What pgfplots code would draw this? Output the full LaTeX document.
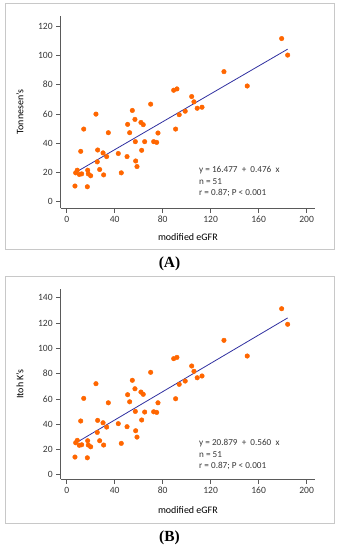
\documentclass[border=0pt]{standalone}
\usepackage{pgfplots}
\pgfplotsset{compat=1.18}
\usepackage{pgfplotstable}
\usepackage{fontspec}
\setmainfont{Carlito}
\newfontfamily\serifb{Liberation Serif}
\definecolor{dotor}{RGB}{255,102,0}
\definecolor{fitblue}{RGB}{48,48,160}
\definecolor{axgray}{RGB}{90,90,90}
\definecolor{txtgray}{RGB}{55,55,55}
\definecolor{framegray}{RGB}{200,200,200}

\pgfplotstableread{
x yA yB
179.2 111.4 131.3
184.2 100.1 119.0
131.1 88.8 106.3
150.5 79.0 93.9
89.2 76.1 91.8
91.9 77.0 92.8
104.2 71.8 86.0
106.1 68.2 81.8
108.8 63.8 76.7
112.8 64.5 78.1
98.8 61.8 74.1
93.8 59.4 71.5
90.8 49.6 60.1
70.0 66.6 81.0
54.7 62.3 74.7
56.9 56.2 68.0
61.9 54.1 65.4
63.8 52.6 63.6
50.8 52.8 63.3
52.5 47.1 57.7
76.1 46.9 56.9
24.4 59.8 72.0
14.2 49.6 60.4
34.7 47.1 56.9
57.2 41.0 50.1
65.0 41.0 49.6
72.5 41.0 49.8
75.0 40.5 49.3
11.7 34.4 42.5
25.8 35.3 43.0
30.3 33.3 41.1
33.3 30.8 37.7
43.0 32.9 40.4
50.3 30.8 38.0
62.5 35.1 43.3
57.5 27.8 34.8
58.6 24.0 29.8
25.5 27.2 33.5
27.5 22.0 26.9
30.8 18.3 23.5
45.5 19.7 24.8
8.8 21.5 27.2
7.5 19.7 25.3
10.5 18.6 23.3
12.5 19.0 23.7
17.5 21.5 26.9
18.0 19.0 23.5
20.0 17.7 22.1
6.9 10.7 14.0
17.2 10.2 13.4
}\data

\pgfplotsset{
  myax/.style={
    scale only axis,
    width=254.3bp,
    axis lines=left,
    axis line style={-, axgray, line width=0.7bp},
    xmin=-5, xmax=207,
    xtick={0,40,80,120,160,200},
    tick align=outside,
    major tick length=4.5bp,
    major tick style={axgray, line width=0.6bp},
    tick label style={font=\fontsize{9.6}{11}\selectfont, text=txtgray},
    label style={font=\fontsize{9.2}{11}\selectfont, text=txtgray},
    /pgf/number format/assume math mode=true,
    xlabel={modified eGFR},
    every axis y label/.style={at={(axis description cs:-0.16,0.5)}, rotate=90, anchor=center},
  }
}

\begin{document}
\begin{tikzpicture}[x=1bp,y=1bp]
\path (0,0) rectangle (338,550);
\draw[framegray, line width=0.8bp] (5,547) rectangle (334,301);
\draw[framegray, line width=0.8bp] (5,273.3) rectangle (334,26.7);
\node[font=\serifb\bfseries\fontsize{15.5}{18}\selectfont] at (169.5,286.5) {(A)};
\node[font=\serifb\bfseries\fontsize{15.5}{18}\selectfont] at (169.5,12.5) {(B)};

\begin{axis}[myax, at={(60.7bp,341.7bp)}, anchor=south west,
  height=192.3bp, ymin=-4.5, ymax=126.8,
  ytick={0,20,40,60,80,100,120},
  every axis x label/.style={at={(axis description cs:0.5,-0.151)}, anchor=center},
  ylabel={Tonnesen's}]
\addplot[only marks, mark=*, mark size=2.3bp, color=dotor] table[x=x, y=yA] {\data};
\addplot[fitblue, line width=0.8bp] coordinates {(7.5,20.05) (184.2,104.16)};
\node[anchor=base west, inner sep=0, font=\fontsize{9.2}{11}\selectfont, text=txtgray] at (axis cs:110.3,20.0) {y = 16.477 \ + \ 0.476 \ x};
\node[anchor=base west, inner sep=0, font=\fontsize{9.2}{11}\selectfont, text=txtgray] at (axis cs:110.3,11.5) {n = 51};
\node[anchor=base west, inner sep=0, font=\fontsize{9.2}{11}\selectfont, text=txtgray] at (axis cs:110.3,4.1) {r = 0.87; P {\textless} 0.001};
\end{axis}

\begin{axis}[myax, at={(60.7bp,70.7bp)}, anchor=south west,
  height=190.3bp, ymin=-3.6, ymax=146.9,
  ytick={0,20,40,60,80,100,120,140},
  every axis x label/.style={at={(axis description cs:0.5,-0.161)}, anchor=center},
  ylabel={Itoh K's}]
\addplot[only marks, mark=*, mark size=2.3bp, color=dotor] table[x=x, y=yB] {\data};
\addplot[fitblue, line width=0.8bp] coordinates {(7.5,25.08) (184.2,124.03)};
\node[anchor=base west, inner sep=0, font=\fontsize{9.2}{11}\selectfont, text=txtgray] at (axis cs:110.3,23.3) {y = 20.879 \ + \ 0.560 \ x};
\node[anchor=base west, inner sep=0, font=\fontsize{9.2}{11}\selectfont, text=txtgray] at (axis cs:110.3,14.0) {n = 51};
\node[anchor=base west, inner sep=0, font=\fontsize{9.2}{11}\selectfont, text=txtgray] at (axis cs:110.3,5.1) {r = 0.87; P {\textless} 0.001};
\end{axis}
\end{tikzpicture}
\end{document}
